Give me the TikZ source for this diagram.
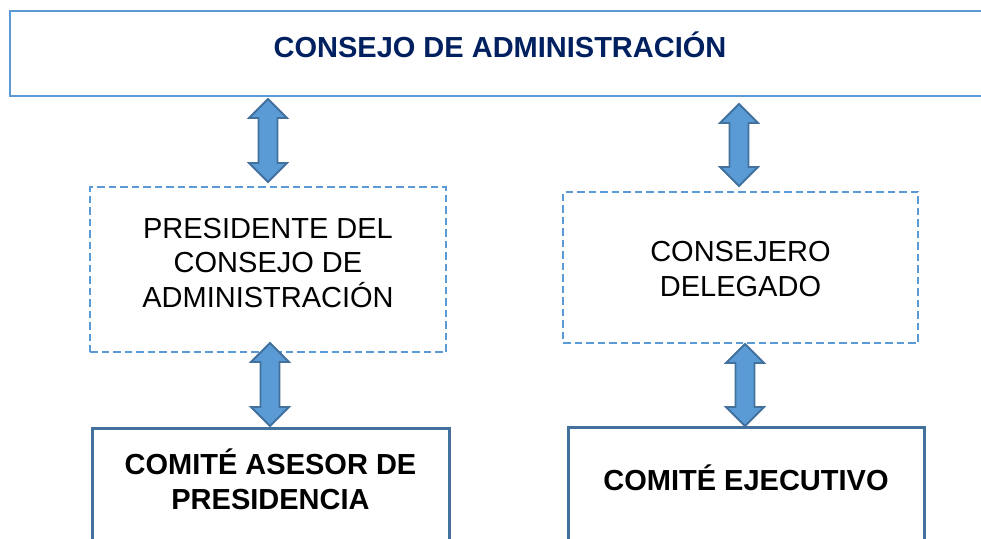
\documentclass[tikz,border=0pt]{standalone}
\usepackage{fontspec}
\setmainfont{Liberation Sans}
\usetikzlibrary{calc}
\definecolor{lblue}{HTML}{5B9BD5}
\definecolor{dblue}{HTML}{41719C}
\definecolor{navy}{HTML}{002060}
\tikzset{
  topbox/.style={draw=lblue, line width=2.6pt, inner sep=0pt},
  dashbox/.style={draw=lblue, line width=2.6pt, dash pattern=on 7.5pt off 4pt, inner sep=0pt},
  solidbox/.style={draw=dblue, line width=3pt, inner sep=0pt},
  lbl/.style={font=\fontsize{29}{34.5}\selectfont, align=center, anchor=base, inner sep=0pt},
  fatarrowstyle/.style={fill=lblue, draw=dblue, line width=1.8pt, line join=miter},
}
\newcommand\fatarrow[2]{%
  \path[fatarrowstyle] let \p1=(#1), \p2=(#2) in
    (\x1,\y1) -- (\x1+19pt,\y1-19pt) -- (\x1+9.5pt,\y1-19pt) -- (\x1+9.5pt,\y2+19pt)
    -- (\x1+19pt,\y2+19pt) -- (\x1,\y2) -- (\x1-19pt,\y2+19pt) -- (\x1-9.5pt,\y2+19pt)
    -- (\x1-9.5pt,\y1-19pt) -- (\x1-19pt,\y1-19pt) -- cycle;}
\begin{document}
\begin{tikzpicture}[x=1pt,y=-1pt]
\useasboundingbox (0,0) rectangle (981,538);
% boxes
\node[topbox, minimum width=980pt, minimum height=85pt] (consejo) at (500,53.5) {};
\node[dashbox, minimum width=356pt, minimum height=165pt] (pres) at (268,269.5) {};
\node[dashbox, minimum width=355pt, minimum height=151pt] (deleg) at (740.5,267.5) {};
\node[solidbox, minimum width=357pt, minimum height=140pt] (casesor) at (270.5,498) {};
\node[solidbox, minimum width=356pt, minimum height=140pt] (cejec) at (746,497) {};
% texts
\node[lbl, text=navy, font=\bfseries\fontsize{29}{34.5}\selectfont] (tconsejo) at (500,57) {CONSEJO DE ADMINISTRACIÓN};
\node[lbl] (tpres) at (268,307) {PRESIDENTE DEL\\CONSEJO DE\\ADMINISTRACIÓN};
\node[lbl] (tdeleg) at (740.5,296) {CONSEJERO\\DELEGADO};
\node[lbl, font=\bfseries\fontsize{29}{35}\selectfont] (tcasesor) at (270.5,509) {COMITÉ ASESOR DE\\PRESIDENCIA};
\node[lbl, font=\bfseries\fontsize{29}{34.5}\selectfont] (tcejec) at (746,490) {COMITÉ EJECUTIVO};
% connectors
\coordinate (a1t) at (268,99);  \coordinate (a1b) at (268,182);
\coordinate (a2t) at (739,104); \coordinate (a2b) at (739,186);
\coordinate (a3t) at (270,343); \coordinate (a3b) at (270,426);
\coordinate (a4t) at (745,344); \coordinate (a4b) at (745,426);
\fatarrow{a1t}{a1b}
\fatarrow{a2t}{a2b}
\fatarrow{a3t}{a3b}
\fatarrow{a4t}{a4b}
\end{tikzpicture}
\end{document}
